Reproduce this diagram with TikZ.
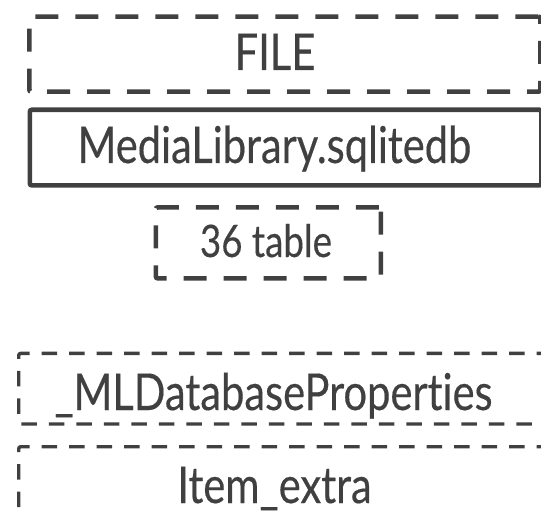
\documentclass[tikz,border=0pt]{standalone}
\usepackage{fontspec}
\setmainfont{Lato}[FakeStretch=0.82, FakeBold=0.3, Ligatures=NoCommon]
\usetikzlibrary{positioning}
\definecolor{ink}{HTML}{404040}

\begin{document}
\begin{tikzpicture}[x=1bp, y=-1bp,
    font=\fontsize{51}{51}\selectfont, text=ink,
    box/.style={draw=ink, rounded corners=2bp, inner sep=0pt, anchor=north west},
    thickdash/.style={box, line width=4.7bp, dash pattern=on 23bp off 17bp},
    thindash/.style={box, line width=3.4bp, dash pattern=on 15.5bp off 12bp},
    solidbox/.style={box, line width=4.7bp},
    lbl/.style={anchor=base, inner sep=0pt}]
  \clip (0,0) rectangle (541,514);
  % boxes
  \node[thickdash, minimum width=511bp, minimum height=75bp] (filebox) at (27,14.3) {};
  \node[solidbox, minimum width=511.5bp, minimum height=75.5bp] (dbbox) at (27.5,107.5) {};
  \node[thickdash, minimum width=225bp, minimum height=71bp] (tabbox) at (153.5,205) {};
  \node[thindash, minimum width=563bp, minimum height=70.6bp] (propbox) at (17,351.7) {};
  \node[thindash, minimum width=563bp, minimum height=69bp] (itembox) at (17,445) {};
  % labels
  \node[lbl] (file) at (275,70) {FILE};
  \node[lbl] (db) at (274.5,163) {MediaLibrary.sqlitedb};
  \node[lbl, font=\fontsize{45}{45}\selectfont] (tab) at (266,257) {36 table};
  \node[lbl] (prop) at (273.5,410) {\_MLDatabaseProperties};
  \node[lbl] (item) at (274.5,503) {Item\_extra};
\end{tikzpicture}
\end{document}
